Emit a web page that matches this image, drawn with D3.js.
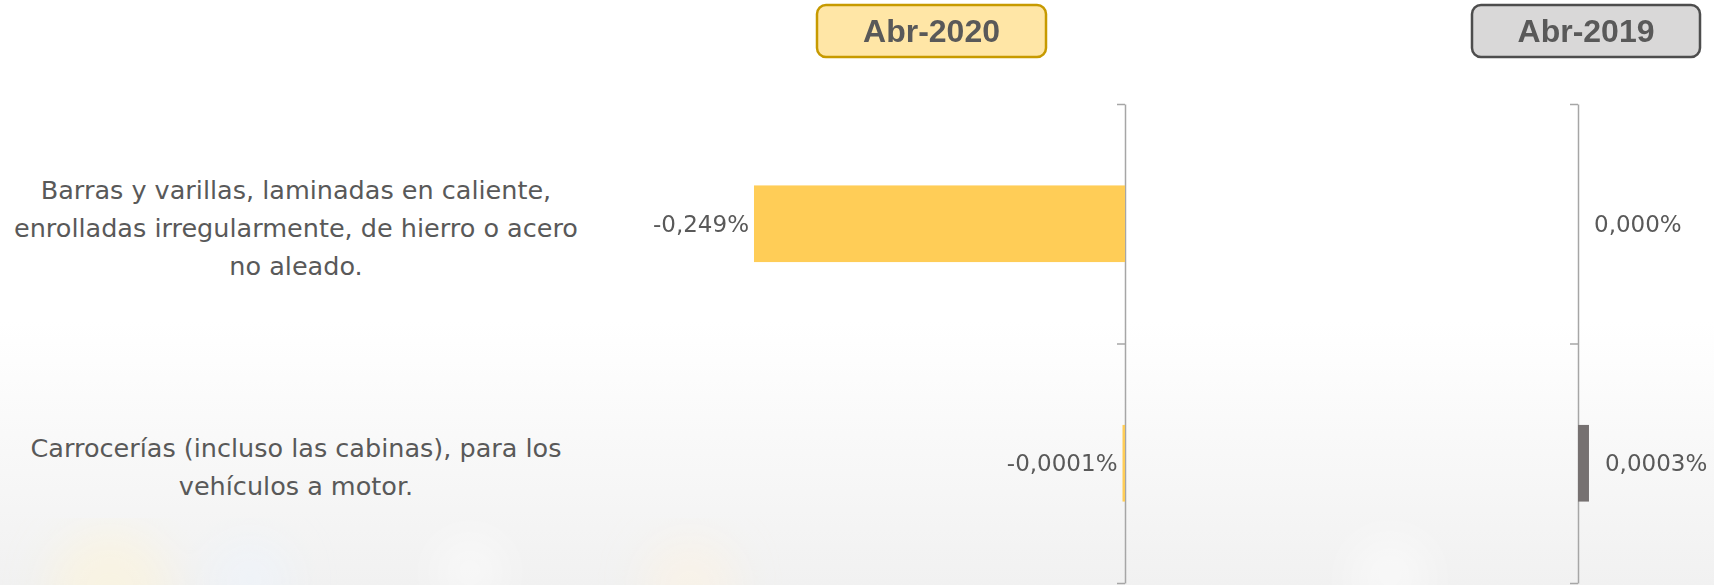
<!DOCTYPE html>
<meta charset="utf-8">
<style>
    body { margin: 0; background: #fff; }
    text { font-family: "DejaVu Sans", sans-serif; fill: #595959; }
    .axis path, .axis line { stroke: #a6a6a6; stroke-width: 1.5px; }
    .head text { font-family: "Liberation Sans", Arial, sans-serif; font-weight: bold; }
</style>
<body>
<script src="https://d3js.org/d3.v7.min.js"></script>
<script>
    var width = 1714,
        height = 585;

    // data
    var categories = [
        ["Barras y varillas, laminadas en caliente,", "enrolladas irregularmente, de hierro o acero", "no aleado."],
        ["Carrocerías (incluso las cabinas), para los", "vehículos a motor."]
    ];
    var catKeys = ["barras", "carrocerias"];
    var values2020 = [-0.249, -0.0001];
    var labels2020 = ["-0,249%", "-0,0001%"];
    var values2019 = [0.000, 0.0003];
    var labels2019 = ["0,000%", "0,0003%"];
    var periods = ["Abr-2020", "Abr-2019"];

    var svg = d3.select("body").append("svg")
        .attr("width", width)
        .attr("height", height);

    // soft background
    var defs = svg.append("defs");
    var grad = defs.append("linearGradient").attr("id", "bg")
        .attr("x1", 0).attr("y1", 0).attr("x2", 0).attr("y2", 1);
    grad.append("stop").attr("offset", "0.55").attr("stop-color", "#ffffff");
    grad.append("stop").attr("offset", "1").attr("stop-color", "#f1f1f1");
    defs.append("filter").attr("id", "blur")
        .append("feGaussianBlur").attr("stdDeviation", 22);

    svg.append("rect").attr("width", width).attr("height", height).attr("fill", "url(#bg)");

    var glow = svg.append("g").attr("filter", "url(#blur)");
    [[110, 590, 60, "#fff6d6"], [250, 580, 40, "#eef6ff"], [470, 570, 35, "#ffffff"],
     [690, 585, 45, "#fff3df"], [1390, 575, 40, "#ffffff"]]
        .forEach(function (b) {
            glow.append("circle").attr("cx", b[0]).attr("cy", b[1]).attr("r", b[2])
                .attr("fill", b[3]).attr("opacity", 0.5);
        });

    var y = d3.scaleBand()
        .domain(catKeys)
        .range([104, 583])
        .paddingInner(0.68)
        .paddingOuter(0.34);

    var yEdge = d3.scaleLinear()
        .domain([0, catKeys.length])
        .range([104, 583]);

    var x2020 = d3.scaleLinear().domain([-0.3, 0]).range([678, 1125]);
    var x2019 = d3.scaleLinear().domain([0, 0.0035]).range([1578, 1706]);

    // category labels
    var catG = svg.append("g");
    categories.forEach(function (lines, i) {
        var cy = y(catKeys[i]) + y.bandwidth() / 2 + 4;
        var lh = 38;
        var t = catG.append("text")
            .attr("text-anchor", "middle")
            .attr("font-size", 25.5)
            .attr("x", 296);
        lines.forEach(function (l, j) {
            t.append("tspan")
                .attr("x", 296)
                .attr("y", cy + (j - (lines.length - 1) / 2) * lh)
                .attr("dy", "0.35em")
                .text(l);
        });
    });

    function panel(xs, vals, labs, color) {
        var g = svg.append("g");

        g.append("g")
            .attr("class", "axis")
            .attr("transform", "translate(" + xs(0) + ",0)")
            .call(d3.axisLeft(yEdge).ticks(catKeys.length).tickSize(8).tickSizeOuter(0).tickFormat(""));

        g.selectAll("rect.bar")
            .data(vals)
            .enter().append("rect")
            .attr("class", "bar")
            .attr("x", function (d) { return d < 0 ? Math.min(xs(d), xs(0) - 2.5) : xs(0); })
            .attr("y", function (d, i) { return y(catKeys[i]); })
            .attr("width", function (d) {
                var w = Math.abs(xs(d) - xs(0));
                return d === 0 ? 0 : Math.max(w, 2.5);
            })
            .attr("height", y.bandwidth())
            .attr("fill", color);

        g.selectAll("text.val")
            .data(vals)
            .enter().append("text")
            .attr("class", "val")
            .attr("font-size", 23)
            .attr("text-anchor", function (d) { return d < 0 ? "end" : "start"; })
            .attr("x", function (d) {
                return d < 0 ? Math.min(xs(d), xs(0) - 2.5) - 5 : xs(d) + 16;
            })
            .attr("y", function (d, i) { return y(catKeys[i]) + y.bandwidth() / 2; })
            .attr("dy", "0.35em")
            .text(function (d, i) { return labs[i]; });
    }

    panel(x2020, values2020, labels2020, "#ffcd57");
    panel(x2019, values2019, labels2019, "#767171");

    // period headers
    var headers = [
        { name: periods[0], x: 817, w: 229, fill: "#ffe6a6", stroke: "#c79a00" },
        { name: periods[1], x: 1472, w: 228, fill: "#d9d8d8", stroke: "#4d4d4d" }
    ];
    var hg = svg.selectAll("g.head")
        .data(headers)
        .enter().append("g")
        .attr("class", "head");
    hg.append("rect")
        .attr("x", function (d) { return d.x; })
        .attr("y", 5)
        .attr("width", function (d) { return d.w; })
        .attr("height", 52)
        .attr("rx", 9)
        .attr("fill", function (d) { return d.fill; })
        .attr("stroke", function (d) { return d.stroke; })
        .attr("stroke-width", 2.5);
    hg.append("text")
        .attr("x", function (d) { return d.x + d.w / 2; })
        .attr("y", 31)
        .attr("dy", "0.35em")
        .attr("text-anchor", "middle")
        .attr("font-size", 32)
        .text(function (d) { return d.name; });
</script>
</body>
